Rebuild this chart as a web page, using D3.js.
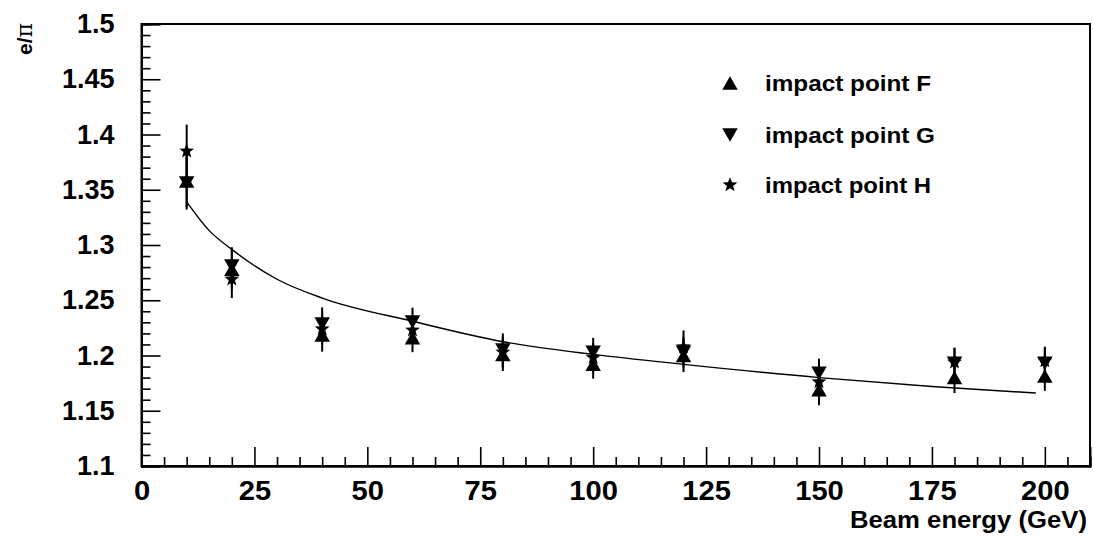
<!DOCTYPE html>
<html><head><meta charset="utf-8">
<script src="https://cdn.jsdelivr.net/npm/d3@7"></script>
<style>
html,body{margin:0;padding:0;background:#fff;}
text{font-family:"Liberation Sans",Arial,Helvetica,sans-serif;font-weight:bold;fill:#000;}
</style></head>
<body>
<svg id="c" width="1094" height="538"></svg>
<script>
// ---- data ----
const energies = [10, 20, 40, 60, 80, 100, 120, 150, 180, 200];
const seriesF = [1.358, 1.278, 1.2185, 1.216, 1.201, 1.192, 1.200, 1.169, 1.180, 1.1815];
const errF    = [0.024, 0.018, 0.015, 0.013, 0.015, 0.013, 0.015, 0.014, 0.014, 0.0135];
const seriesG = [1.356, 1.281, 1.2285, 1.2303, 1.205, 1.203, 1.203, 1.184, 1.193, 1.193];
const errG    = [0.024, 0.017, 0.015, 0.013, 0.015, 0.013, 0.014, 0.013, 0.014, 0.014];
const seriesH = [1.385, 1.269, 1.224, 1.223, 1.203, 1.198, 1.2077, 1.176, 1.194, 1.195];
const errH    = [0.024, 0.017, 0.014, 0.013, 0.014, 0.013, 0.015, 0.013, 0.013, 0.013];
// fitted curve
const fitE = [10, 15, 20, 30, 40, 60, 80, 100, 120, 150, 175, 198];
const fitV = [1.339, 1.313, 1.296, 1.269, 1.252, 1.231, 1.2125, 1.201, 1.192, 1.180, 1.172, 1.166];
const xMajor = [0, 25, 50, 75, 100, 125, 150, 175, 200];
const yMajor = [1.1, 1.15, 1.2, 1.25, 1.3, 1.35, 1.4, 1.45, 1.5];
const legendLabels = ["impact point F", "impact point G", "impact point H"];
const xTitle = "Beam energy (GeV)";
const yTitleA = "e/";
const yTitleB = "\u03c0";

const svg = d3.select("#c");
const L = 141.5, R = 1090, T = 24, B = 466;
const x = d3.scaleLinear().domain([0, 210]).range([L, R]);
const y = d3.scaleLinear().domain([1.1, 1.5]).range([B, T]);

// frame
svg.append("rect").attr("x", L).attr("y", T).attr("width", R - L).attr("height", B - T)
  .attr("fill", "none").attr("stroke", "#000").attr("stroke-width", 2);

const xMinor = d3.range(0, 211, 5).filter(v => !xMajor.includes(v));
const yMinor = d3.range(110, 151, 1).map(v => v / 100).filter(v => !yMajor.some(m => Math.abs(m - v) < 1e-9));

// x axis
const gx = svg.append("g").attr("transform", `translate(0,${B})`);
gx.call(d3.axisBottom(x).tickValues(xMajor).tickSize(-19).tickPadding(15).tickFormat(d3.format("d")));
gx.append("g").call(d3.axisBottom(x).tickValues(xMinor).tickSize(-9).tickFormat(""));
// y axis
const gy = svg.append("g").attr("transform", `translate(${L},0)`);
gy.call(d3.axisLeft(y).tickValues(yMajor).tickSize(-19).tickPadding(27).tickFormat(d => String(+d.toFixed(2))));
gy.append("g").call(d3.axisLeft(y).tickValues(yMinor).tickSize(-9).tickFormat(""));

svg.selectAll(".domain").attr("stroke", "#000").attr("stroke-width", 2);
svg.selectAll(".tick line").attr("stroke", "#000").attr("stroke-width", 1.6);
svg.selectAll(".tick text").attr("font-size", 27).attr("font-family", "Liberation Sans, Arial, sans-serif").attr("font-weight", "bold").attr("fill", "#000");
gx.selectAll(".tick text").each(function() {
  const t = d3.select(this), w = this.getComputedTextLength();
  t.attr("textLength", w * 1.08).attr("lengthAdjust", "spacingAndGlyphs");
});

// titles
svg.append("text").attr("x", 1087).attr("y", 528).attr("text-anchor", "end").attr("font-size", 23.5)
  .attr("textLength", 237).attr("lengthAdjust", "spacingAndGlyphs").text(xTitle);
const yt = svg.append("text").attr("transform", "translate(32,23) rotate(-90)").attr("text-anchor", "end").attr("font-size", 21);
yt.append("tspan").text(yTitleA);
yt.append("tspan").attr("font-family", "DejaVu Serif, Liberation Serif, serif").attr("font-weight", "normal").attr("font-size", 22).text(yTitleB);

// fit curve
const fit = fitE.map((e, i) => [e, fitV[i]]);
svg.append("path").datum(fit)
  .attr("d", d3.line().x(d => x(d[0])).y(d => y(d[1])).curve(d3.curveMonotoneX))
  .attr("fill", "none").attr("stroke", "#000").attr("stroke-width", 1.4);

// marker shapes
const TW = 15.5, TH = 13.5;
const triUp = `M${-TW/2},${TH/2}L${TW/2},${TH/2}L0,${-TH/2}Z`;
const triDown = `M${-TW/2},${-TH/2}L${TW/2},${-TH/2}L0,${TH/2}Z`;
function starPath(ro, ri) {
  const pts = [];
  for (let k = 0; k < 10; k++) {
    const r = k % 2 === 0 ? ro : ri;
    const a = -Math.PI / 2 + k * Math.PI / 5;
    pts.push([r * Math.cos(a), r * Math.sin(a)]);
  }
  return "M" + pts.map(p => p[0].toFixed(2) + "," + p[1].toFixed(2)).join("L") + "Z";
}
const star = starPath(7.8, 3.3);

const series = [
  {vals: seriesF, errs: errF, shape: triUp},
  {vals: seriesG, errs: errG, shape: triDown},
  {vals: seriesH, errs: errH, shape: star}
];

// error bars
series.forEach(s => {
  svg.append("g").selectAll("line").data(energies).join("line")
    .attr("x1", d => x(d)).attr("x2", d => x(d))
    .attr("y1", (d, i) => y(s.vals[i] - s.errs[i]))
    .attr("y2", (d, i) => y(s.vals[i] + s.errs[i]))
    .attr("stroke", "#000").attr("stroke-width", 2);
});
// markers
series.forEach(s => {
  svg.append("g").selectAll("path").data(energies).join("path")
    .attr("d", s.shape)
    .attr("transform", (d, i) => `translate(${x(d)},${y(s.vals[i])})`)
    .attr("fill", "#000");
});

// legend
const legY = [83, 135, 185];
legendLabels.forEach((lab, i) => {
  svg.append("path").attr("d", series[i].shape).attr("transform", `translate(730,${legY[i]})`).attr("fill", "#000");
  svg.append("text").attr("x", 765).attr("y", legY[i]).attr("dy", "0.35em").attr("font-size", 22.5)
    .attr("textLength", i === 1 ? 170 : 166).attr("lengthAdjust", "spacingAndGlyphs").text(lab);
});
</script>
</body></html>
